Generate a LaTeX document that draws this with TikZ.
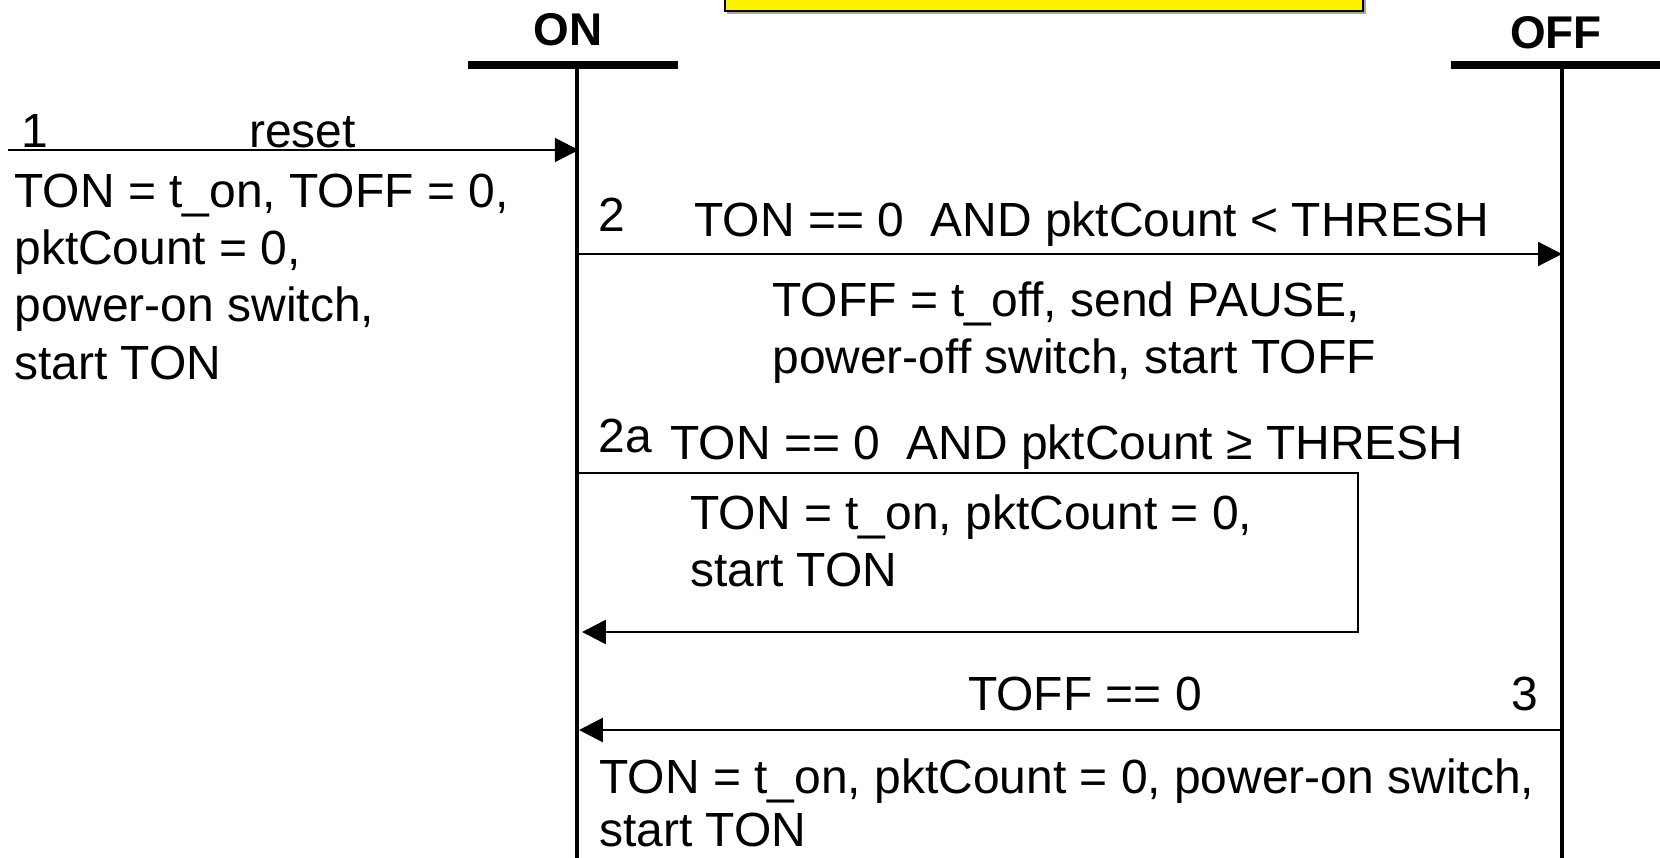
\documentclass[tikz,border=0pt]{standalone}
\usepackage{fontspec}
\setmainfont{Liberation Sans}
\usepackage{tikz}
\usetikzlibrary{arrows.meta,positioning}
\newcommand{\txtsize}{\fontsize{27.3pt}{32.6pt}\selectfont}
\newcommand{\hdsize}{\fontsize{26.1pt}{31pt}\selectfont\bfseries}

\begin{document}
\begin{tikzpicture}[
    x=0.02cm, y=-0.02cm,
    lbl/.style={anchor=base west,inner sep=0pt,font=\txtsize},
    blk/.style={anchor=north west,inner sep=0pt,align=left,font=\txtsize},
    statelbl/.style={anchor=base,inner sep=0pt,font=\hdsize},
    life/.style={line width=2.3pt},
    bar/.style={line width=4pt},
    msg/.style={-{Triangle[length=13.6pt,width=13.6pt]},line width=1.2pt,
                line join=miter}
  ]
    \useasboundingbox (0,0) rectangle (1660,858);

    %% header box (cut by the page edge)
    \fill[gray!70] (727,-20) rectangle (1366,14);
    \draw[fill=yellow,line width=1.2pt] (725,-20) rectangle (1363,11);

    %% the two states
    \node[statelbl] (on) at (568,46) {ON};
    \node[statelbl] (off) at (1556,49) {OFF};
    \coordinate (onT) at (577,66);
    \coordinate (onB) at (577,858);
    \coordinate (offT) at (1562,66);
    \coordinate (offB) at (1562,858);
    \draw[bar] (468,65) -- (678,65);
    \draw[bar] (1451,65) -- (1660,65);
    \draw[life] (onT) -- (onB);
    \draw[life] (offT) -- (offB);

    %% 1: reset
    \coordinate (r1) at (8,150);
    \draw[msg] (r1) -- ([xshift=1pt]r1 -| onT);
    \node[lbl] (n1) at (21,148) {1};
    \node[lbl] (rst) at (249,148) {reset};
    \node[blk] (act1) at (14,173.5)
      {TON = t\_on, TOFF = 0,\\pktCount = 0,\\power-on switch,\\start TON};

    %% 2: ON -> OFF
    \coordinate (a2s) at (577,254);
    \coordinate (a2e) at (1562,254);
    \draw[msg] (a2s) -- (a2e);
    \node[lbl] (n2) at (598,232) {2};
    \node[lbl] (c2) at (694,236) {TON == 0~~AND pktCount < THRESH};
    \node[blk] (act2) at (772,281.5)
      {TOFF = t\_off, send PAUSE,\\power-off switch, start TOFF};

    %% 2a: stay in ON
    \coordinate (l2s) at (577,473);
    \coordinate (l2a) at (1358,473);
    \coordinate (l2b) at (1358,632);
    \coordinate (l2e) at (582,632);
    \draw[msg,line width=1.5pt] (l2s) -- (l2a) -- (l2b) -- (l2e);
    \node[lbl] (n2a) at (598,452) {2a};
    \node[lbl] (c2a) at (670,459.5) {TON == 0~~AND pktCount ≥ THRESH};
    \node[blk] (act2a) at (690,494)
      {TON = t\_on, pktCount = 0,\\start TON};

    %% 3: OFF -> ON
    \coordinate (a3s) at (1562,730);
    \coordinate (a3e) at (579,730);
    \draw[msg,line width=1.7pt] (a3s) -- (a3e);
    \node[lbl,anchor=base] (c3) at (1085,710) {TOFF == 0};
    \node[lbl,anchor=base] (n3) at (1525,710) {3};
    \node[blk] (act3) at (599,758)
      {TON = t\_on, pktCount = 0, power-on switch,\\[-2pt]start TON};
  \end{tikzpicture}
\end{document}
